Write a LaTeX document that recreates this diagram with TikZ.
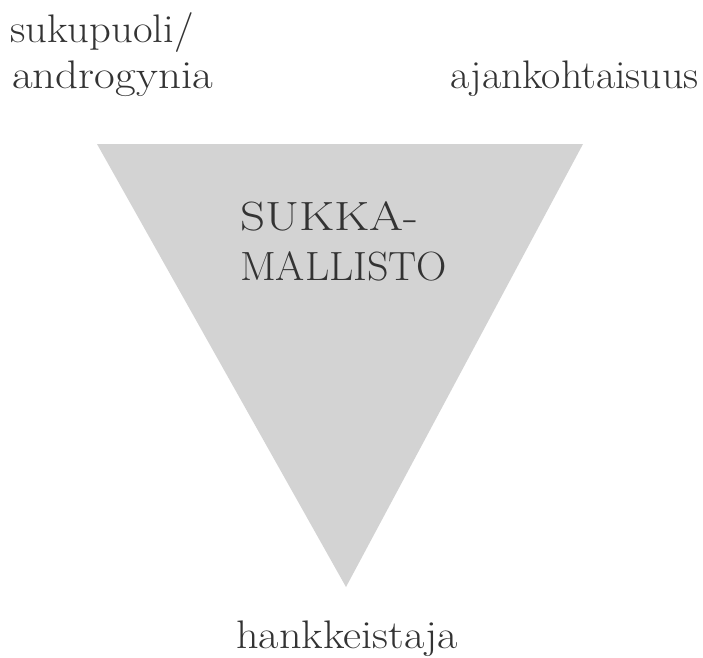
\documentclass[tikz,border=0pt]{standalone}
\newcommand\widetxt[2]{\scalebox{#1}[1]{#2}}
\begin{document}
\begin{tikzpicture}[x=1bp,y=-1bp,
  lbl/.style={anchor=base west,inner sep=0pt,text=black!80,font=\fontsize{40}{48}\selectfont},
  ttl/.style={anchor=base west,inner sep=0pt,text=black!80,font=\fontsize{41}{48}\selectfont}]
\useasboundingbox (0,0) rectangle (703,658);
\fill[fill={rgb,255:red,211;green,211;blue,211}] (97,144) coordinate (tl) -- (583,144) coordinate (tr) -- (346,587) coordinate (bt) -- cycle;
\node[lbl] (s1) at (10,43) {\widetxt{1.07}{sukupuoli/}};
\node[lbl] (s2) at (12,89) {\widetxt{1.13}{androgynia}};
\node[lbl] (aj) at (450,89) {\widetxt{1.05}{ajankohtaisuus}};
\node[ttl] (m1) at (240,230) {\widetxt{1.2}{SUKKA-}};
\node[ttl] (m2) at (240,280) {\widetxt{1.03}{MALLISTO}};
\node[lbl] (hk) at (236,648) {\widetxt{1.11}{hankkeistaja}};
\end{tikzpicture}
\end{document}
